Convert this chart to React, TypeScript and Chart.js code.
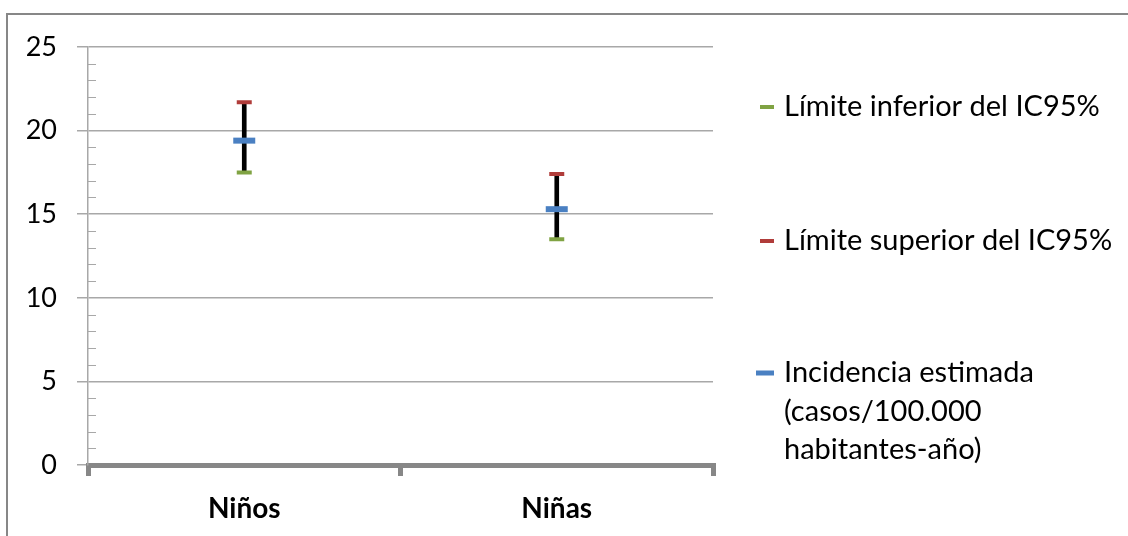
import React, { useEffect, useRef } from 'react';
import { Chart, registerables } from 'chart.js';

Chart.register(...registerables);

// ---- data ----
const categories = ['Niños', 'Niñas'];
const lowerCI = [17.5, 13.5];
const upperCI = [21.7, 17.4];
const estimate = [19.4, 15.3];
const yMin = 0;
const yMax = 25;
const yStep = 5;
const legendInferior = ['Límite inferior del IC95%'];
const legendSuperior = ['Límite superior del IC95%'];
const legendEstimate = ['Incidencia estimada', '(casos/100.000', 'habitantes-año)'];

// ---- styles ----
const GREEN = '#80A343';
const RED = '#B03C3A';
const BLUE = '#4A80C2';
const AXIS = '#878787';
const GRID = '#a8a8a8';
const FONT = 'Lato';

const minorTicksPlugin = {
  id: 'minorTicks',
  afterDatasetsDraw(chart: any) {
    const y = chart.scales.y;
    const ctx = chart.ctx;
    ctx.save();
    ctx.strokeStyle = GRID;
    ctx.lineWidth = 1;
    for (let v = yMin; v <= yMax; v += 1) {
      if (v % yStep === 0) continue;
      const py = Math.round(y.getPixelForValue(v)) + 0.5;
      ctx.beginPath();
      ctx.moveTo(y.right, py);
      ctx.lineTo(y.right + 8, py);
      ctx.stroke();
    }
    ctx.restore();
  },
};

const legendPlugin = {
  id: 'customLegend',
  afterDraw(chart: any) {
    const ctx = chart.ctx;
    const area = chart.chartArea;
    const textX = area.right + 71;
    const items = [
      { lines: legendInferior, color: GREEN, w: 14, h: 4, y: 107 },
      { lines: legendSuperior, color: RED, w: 14, h: 4, y: 241 },
      { lines: legendEstimate, color: BLUE, w: 18, h: 5, y: 373 },
    ];
    ctx.save();
    ctx.font = `29px ${FONT}`;
    ctx.textBaseline = 'middle';
    ctx.textAlign = 'left';
    items.forEach((it) => {
      ctx.fillStyle = it.color;
      ctx.fillRect(textX - 10 - it.w, it.y - it.h / 2, it.w, it.h);
      ctx.fillStyle = '#000';
      it.lines.forEach((ln, i) => {
        ctx.fillText(ln, textX, it.y + i * 38.5);
      });
    });
    ctx.restore();
  },
};

export default function App() {
  const ref = useRef<HTMLCanvasElement | null>(null);

  useEffect(() => {
    if (!ref.current) return;
    const chart = new Chart(ref.current, {
      type: 'bar',
      data: {
        labels: categories,
        datasets: [
          {
            type: 'bar',
            label: 'range',
            data: lowerCI.map((l, i) => [l, upperCI[i]]) as any,
            backgroundColor: '#000',
            barThickness: 4,
            order: 10,
          } as any,
          {
            type: 'line',
            label: legendInferior.join(' '),
            data: lowerCI,
            showLine: false,
            pointStyle: 'line',
            pointRadius: 7.5,
            pointBorderWidth: 4,
            pointBorderColor: GREEN,
            pointBackgroundColor: GREEN,
            order: 2,
          },
          {
            type: 'line',
            label: legendSuperior.join(' '),
            data: upperCI,
            showLine: false,
            pointStyle: 'line',
            pointRadius: 7.5,
            pointBorderWidth: 4,
            pointBorderColor: RED,
            pointBackgroundColor: RED,
            order: 2,
          },
          {
            type: 'line',
            label: legendEstimate.join(' '),
            data: estimate,
            showLine: false,
            pointStyle: 'line',
            pointRadius: 11,
            pointBorderWidth: 6,
            pointBorderColor: BLUE,
            pointBackgroundColor: BLUE,
            order: 1,
          },
        ],
      },
      options: {
        responsive: false,
        maintainAspectRatio: false,
        animation: false,
        events: [],
        layout: { padding: { left: 0, top: 47, right: 415, bottom: 0 } },
        plugins: {
          legend: { display: false },
          tooltip: { enabled: false },
          title: { display: false },
        },
        scales: {
          x: {
            type: 'category',
            offset: true,
            afterFit: (s: any) => {
              s.height = 71;
            },
            grid: {
              display: true,
              offset: true,
              drawOnChartArea: false,
              drawTicks: true,
              tickLength: 11,
              lineWidth: 5,
              color: AXIS,
            },
            border: { display: true, color: AXIS, width: 5 },
            ticks: {
              color: '#000',
              padding: 16,
              font: { family: FONT, size: 28, weight: 'bold' },
            },
          },
          y: {
            min: yMin,
            max: yMax,
            afterFit: (s: any) => {
              s.width = 88;
            },
            grid: {
              color: GRID,
              lineWidth: 1.5,
              drawTicks: true,
              tickLength: 11,
            },
            border: { display: true, color: GRID, width: 1.5 },
            ticks: {
              stepSize: yStep,
              color: '#000',
              padding: 20,
              font: { family: FONT, size: 27 },
            },
          },
        },
      },
      plugins: [minorTicksPlugin, legendPlugin],
    });
    return () => chart.destroy();
  }, []);

  return (
    <div style={{ position: 'fixed', left: 0, top: 0, width: 1128, height: 536, overflow: 'hidden', background: '#fff' }}>
      <div
        style={{
          position: 'absolute',
          left: 6,
          top: 13,
          width: 1300,
          height: 700,
          borderLeft: `2px solid ${AXIS}`,
          borderTop: `2px solid ${AXIS}`,
          boxSizing: 'border-box',
        }}
      />
      <canvas ref={ref} width={1128} height={536} style={{ position: 'absolute', left: 0, top: 0, width: 1128, height: 536 }} />
    </div>
  );
}
